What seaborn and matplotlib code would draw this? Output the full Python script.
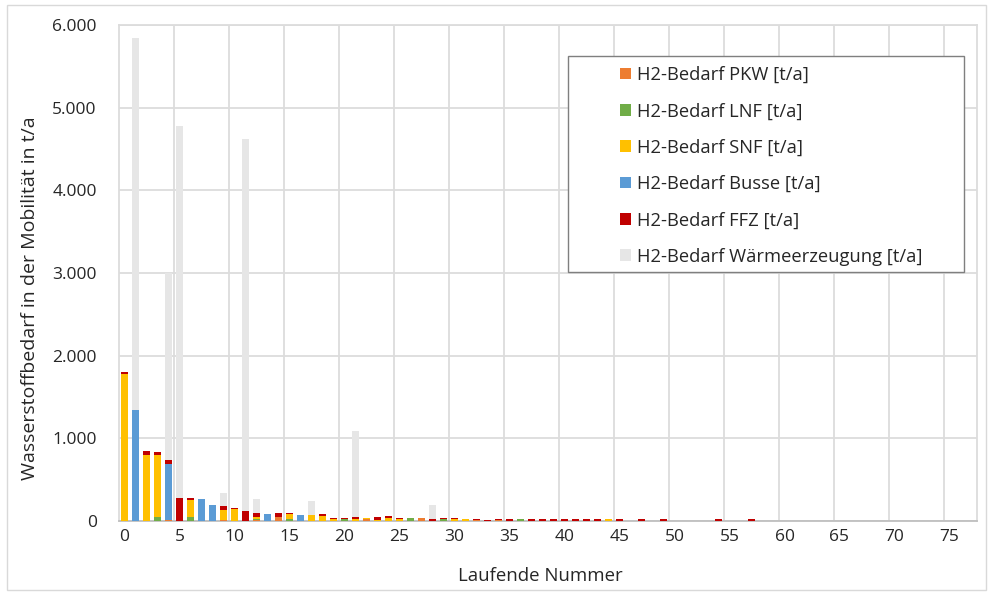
import numpy as np
import pandas as pd
import matplotlib
matplotlib.use("Agg")
import matplotlib.pyplot as plt
from matplotlib.patches import Patch, Rectangle
from matplotlib.ticker import FuncFormatter
import seaborn as sns

# ---------------- data ----------------
categories = list(range(78))

pkw = [5, 0, 0, 0, 15, 0, 0, 0, 0, 12, 0, 0, 15, 0, 45, 0, 0, 0, 0, 0,
       0, 0, 25, 0, 0, 0, 0, 36, 0, 0, 0, 0, 18, 0, 14, 0, 0, 0, 0, 0,
       0, 0, 0, 0, 0, 0, 0, 0, 0, 0, 0, 0, 0, 0, 0, 0, 0, 0, 0, 0,
       0, 0, 0, 0, 0, 0, 0, 0, 0, 0, 0, 0, 0, 0, 0, 0, 0, 0]
lnf = [0, 0, 0, 48, 0, 0, 45, 0, 0, 0, 0, 0, 12, 0, 0, 24, 0, 0, 0, 0,
       25, 0, 0, 0, 0, 0, 32, 0, 0, 20, 0, 0, 0, 0, 0, 0, 20, 0, 0, 0,
       0, 0, 0, 0, 0, 0, 0, 0, 0, 0, 0, 0, 0, 0, 0, 0, 0, 0, 0, 0,
       0, 0, 0, 0, 0, 0, 0, 0, 0, 0, 0, 0, 0, 0, 0, 0, 0, 0]
snf = [1775, 0, 794, 754, 0, 0, 213, 0, 0, 121, 145, 0, 22, 0, 0, 55, 0, 73, 60, 30,
       5, 28, 15, 16, 40, 28, 0, 0, 0, 0, 22, 24, 0, 0, 0, 0, 0, 0, 0, 0,
       0, 0, 0, 0, 20, 0, 0, 0, 0, 0, 0, 0, 0, 0, 0, 0, 0, 0, 0, 0,
       0, 0, 0, 0, 0, 0, 0, 0, 0, 0, 0, 0, 0, 0, 0, 0, 0, 0]
busse = [0, 1342, 0, 0, 674, 0, 0, 266, 190, 0, 0, 0, 0, 89, 0, 0, 73, 0, 0, 0,
         0, 0, 0, 0, 0, 0, 0, 0, 0, 0, 0, 0, 0, 0, 0, 0, 0, 0, 0, 0,
         0, 0, 0, 0, 0, 0, 0, 0, 0, 0, 0, 0, 0, 0, 0, 0, 0, 0, 0, 0,
         0, 0, 0, 0, 0, 0, 0, 0, 0, 0, 0, 0, 0, 0, 0, 0, 0, 0]
ffz = [18, 0, 49, 32, 48, 282, 20, 0, 0, 48, 12, 125, 50, 0, 48, 14, 0, 0, 25, 10,
       10, 20, 0, 28, 16, 12, 0, 0, 26, 16, 14, 0, 6, 18, 10, 20, 0, 20, 20, 20,
       20, 20, 20, 20, 0, 20, 0, 20, 0, 20, 0, 0, 0, 0, 20, 0, 0, 20, 0, 0,
       0, 0, 0, 0, 0, 0, 0, 0, 0, 0, 0, 0, 0, 0, 0, 0, 0, 0]
waerme = [0, 4500, 0, 0, 2263, 4500, 0, 0, 0, 161, 0, 4495, 165, 0, 0, 0, 0, 165, 0, 0,
          0, 1045, 0, 0, 0, 0, 0, 0, 170, 0, 0, 0, 0, 0, 0, 0, 0, 0, 0, 0,
          0, 0, 0, 0, 0, 0, 0, 0, 0, 0, 0, 0, 0, 0, 0, 0, 0, 0, 0, 0,
          0, 0, 0, 0, 0, 0, 0, 0, 0, 0, 0, 0, 0, 0, 0, 0, 0, 0]

series_names = ["H2-Bedarf PKW [t/a]", "H2-Bedarf LNF [t/a]", "H2-Bedarf SNF [t/a]",
                "H2-Bedarf Busse [t/a]", "H2-Bedarf FFZ [t/a]",
                "H2-Bedarf Wärmeerzeugung [t/a]"]
series_values = [pkw, lnf, snf, busse, ffz, waerme]
colors = ["#ED7D31", "#70AD47", "#FFC000", "#5B9BD5", "#C00000", "#E6E6E6"]

y_ticks = [0, 1000, 2000, 3000, 4000, 5000, 6000]
x_ticks = list(range(0, 80, 5))

# ---------------- figure ----------------
sns.set_theme(style="white")
plt.rcParams["font.family"] = ["Open Sans", "DejaVu Sans"]
text_color = "#262626"

rows = []
for name, vals in zip(series_names, series_values):
    for c, v in zip(categories, vals):
        rows.append({"nr": c, "serie": name, "wert": v})
df = pd.DataFrame(rows)

fig = plt.figure(figsize=(9.89, 5.92), dpi=100)
ax = fig.add_axes([119 / 989, 1 - 521 / 592, 858 / 989, 496 / 592])

palette = dict(zip(series_names, colors))
sns.histplot(data=df, x="nr", weights="wert", hue="serie",
             hue_order=series_names[::-1], palette=palette,
             multiple="stack", discrete=True, shrink=0.68,
             alpha=1, linewidth=0, legend=False, ax=ax)
for p in ax.patches:
    p.set_zorder(3)

ax.set_xlim(-0.5, 77.5)
ax.set_ylim(0, 6000)
ax.set_yticks(y_ticks)
ax.yaxis.set_major_formatter(FuncFormatter(lambda v, p: f"{int(v):,}".replace(",", ".")))
ax.set_xticks(x_ticks)
ax.set_xticklabels([str(t) for t in x_ticks])
ax.set_xticks(np.arange(4.5, 77.5, 5), minor=True)
ax.tick_params(axis="both", which="both", length=0, labelsize=12.5, colors=text_color)
ax.tick_params(axis="y", pad=16)
ax.tick_params(axis="x", pad=6)

ax.grid(False)
ax.grid(axis="y", which="major", color="#DCDCDC", linewidth=1.3)
ax.grid(axis="x", which="minor", color="#DCDCDC", linewidth=1.3)
ax.set_axisbelow(True)
for s in ["left", "top", "right"]:
    ax.spines[s].set_color("#DCDCDC")
    ax.spines[s].set_linewidth(1.3)
ax.spines["bottom"].set_color("#BFBFBF")
ax.spines["bottom"].set_linewidth(1.3)
for s in ax.spines.values():
    s.set_zorder(2)

ax.set_ylabel("Wasserstoffbedarf in der Mobilität in t/a", fontsize=14, color=text_color)
ax.set_xlabel("Laufende Nummer", fontsize=13.4, color=text_color)
ax.yaxis.set_label_coords(-0.093, 0.45)
ax.xaxis.set_label_coords(0.491, -0.093)

# legend box
box = Rectangle((568 / 989, 1 - 272 / 592), 396 / 989, 216 / 592,
                transform=fig.transFigure, facecolor="white", edgecolor="#7F7F7F",
                linewidth=1.0, zorder=4, clip_on=False)
ax.add_patch(box)
handles = [Patch(facecolor=c, edgecolor="none") for c in colors]
leg = ax.legend(handles, series_names, loc="upper left",
                bbox_to_anchor=(620 / 989, 1 - 66 / 592), bbox_transform=fig.transFigure,
                frameon=False, fontsize=13.2, handlelength=0.6, handleheight=0.6,
                handletextpad=0.35, labelspacing=1.0, borderpad=0, borderaxespad=0)
for t in leg.get_texts():
    t.set_color(text_color)
leg.set_zorder(5)

# chart border
fig.patches.append(Rectangle((7 / 989, 1 - 590 / 592), 979 / 989, 585 / 592,
                             transform=fig.transFigure, facecolor="none",
                             edgecolor="#D9D9D9", linewidth=1.0))

fig.savefig("out.png", dpi=100)
